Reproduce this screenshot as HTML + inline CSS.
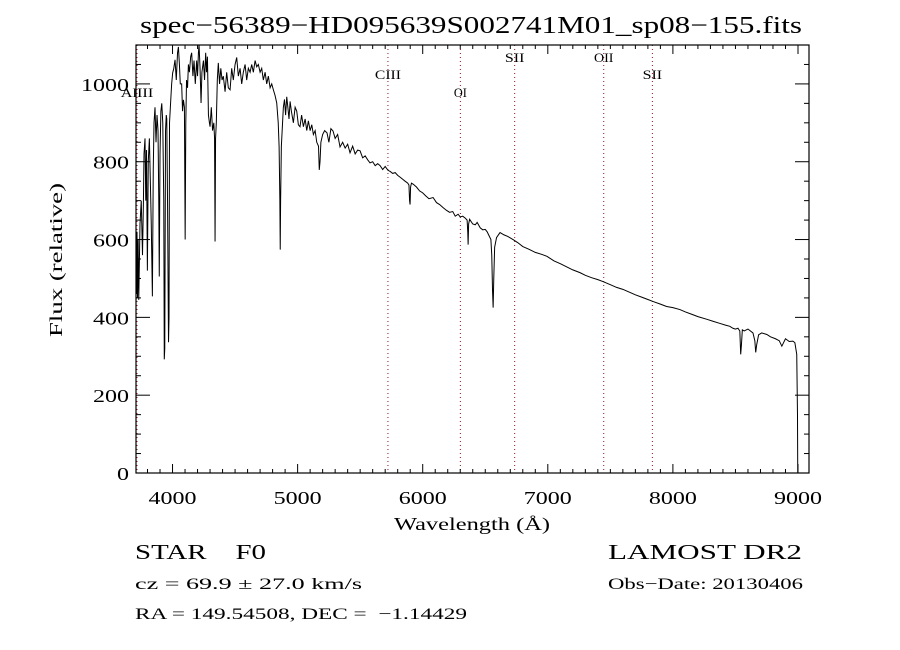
<!DOCTYPE html>
<html><head><meta charset="utf-8"><style>
html,body{margin:0;padding:0;background:#fff;}
svg{display:block;font-family:"Liberation Serif",serif;}
</style></head><body>
<svg id="chart" width="900" height="650" viewBox="0 0 900 650">
<rect width="900" height="650" fill="#fff"/>
<text x="140" y="33" font-size="24" textLength="662" lengthAdjust="spacingAndGlyphs">spec−56389−HD095639S002741M01_sp08−155.fits</text>
<g id="lines"></g>
<g id="axes"></g>
<path id="spec" fill="none" stroke="#000" stroke-width="1"/>
<rect x="136" y="45" width="673" height="428" fill="none" stroke="#000" stroke-width="1.2"/>
<text x="394" y="530" font-size="18" textLength="156" lengthAdjust="spacingAndGlyphs">Wavelength (Å)</text>
<text transform="translate(62,337) rotate(-90)" font-size="18" textLength="154" lengthAdjust="spacingAndGlyphs">Flux (relative)</text>
<text x="135" y="559" font-size="21" xml:space="preserve" textLength="131" lengthAdjust="spacingAndGlyphs">STAR    F0</text>
<text x="608" y="559" font-size="21" textLength="194" lengthAdjust="spacingAndGlyphs">LAMOST DR2</text>
<text x="135" y="589" font-size="16" textLength="227" lengthAdjust="spacingAndGlyphs">cz = 69.9 ± 27.0 km/s</text>
<text x="608" y="589" font-size="16" textLength="195" lengthAdjust="spacingAndGlyphs">Obs−Date: 20130406</text>
<text x="135" y="619" font-size="16" xml:space="preserve" textLength="332" lengthAdjust="spacingAndGlyphs">RA = 149.54508, DEC =  −1.14429</text>
</svg>
<script>
const wave = [3712,3716,3720,3725,3730,3740,3750,3760,3767,3772,
3780,3786,3792,3799,3806,3815,3822,3830,3839,3846,
3852,3860,3868,3876,3884,3890,3894,3900,3907,3914,
3922,3930,3934,3938,3944,3950,3954,3960,3968,3972,
3976,3986,3993,4001,4010,4020,4030,4040,4047,4055,
4062,4073,4080,4087,4095,4101,4106,4112,4120,4127,
4135,4145,4153,4163,4172,4182,4193,4200,4207,4212,
4220,4228,4235,4247,4256,4265,4272,4279,4287,4295,
4300,4310,4320,4330,4336,4340,4344,4350,4358,4366,
4376,4386,4396,4406,4420,4433,4446,4460,4473,4486,
4500,4513,4526,4540,4553,4566,4580,4593,4606,4620,
4633,4646,4660,4673,4686,4700,4713,4726,4740,4753,
4766,4780,4793,4806,4820,4833,4845,4852,4858,4861,
4864,4870,4878,4886,4895,4904,4913,4922,4931,4940,
4950,4966,4980,4993,5006,5019,5032,5046,5060,5073,
5086,5100,5113,5126,5140,5153,5167,5173,5179,5186,
5200,5216,5235,5250,5266,5283,5300,5320,5339,5360,
5380,5400,5419,5440,5460,5480,5499,5520,5540,5560,
5579,5600,5620,5640,5659,5680,5700,5722,5740,5760,
5780,5800,5820,5840,5859,5880,5890,5895,5899,5903,
5910,5925,5950,5975,6000,6025,6050,6083,6110,6135,
6163,6190,6215,6240,6260,6283,6300,6320,6340,6355,
6360,6363,6367,6375,6400,6420,6435,6460,6480,6500,
6515,6530,6545,6552,6558,6563,6568,6575,6590,6618,
6650,6680,6722,6760,6800,6850,6900,6950,6993,7050,
7100,7150,7200,7257,7300,7350,7400,7441,7500,7550,
7600,7657,7700,7750,7800,7840,7900,7950,8000,8056,
8100,8150,8200,8272,8320,8370,8420,8455,8480,8500,
8520,8535,8542,8548,8555,8570,8600,8640,8655,8662,
8670,8685,8710,8751,8780,8820,8850,8871,8900,8930,
8959,8975,8990,8996,8998];
const flux = [460,620,450,600,445,640,700,560,690,820,
860,700,830,520,800,860,760,640,454,780,
900,940,850,920,880,700,505,820,930,950,
900,700,292,320,880,920,910,700,336,400,
900,960,1000,1028,1040,1062,1010,1080,1095,1050,
1000,1000,930,959,940,600,900,1010,990,1050,
1030,1070,1080,1020,1060,1000,1060,1020,1080,1100,
1040,951,1030,1060,1010,1080,1030,1070,920,900,
890,940,880,900,860,595,860,900,1010,1054,
1000,1040,1010,1020,980,1030,990,985,1040,1010,
1050,1068,1020,1040,1000,1030,1050,1010,1040,1030,
1050,1030,1060,1044,1050,1030,1040,1010,1030,1000,
1020,990,1000,985,970,951,900,838,700,574,
700,840,890,940,960,920,967,940,910,955,
930,900,940,930,895,890,920,890,910,880,
905,880,895,870,880,850,840,779,800,850,
870,880,874,850,885,879,860,870,838,850,
835,845,823,840,820,830,828,810,815,805,
797,800,790,795,790,780,788,778,775,770,
772,765,760,755,750,745,740,700,690,735,
745,742,735,725,720,712,705,708,695,690,
682,675,670,672,660,665,658,660,655,650,
620,587,640,652,640,638,644,630,625,626,
620,610,600,560,470,425,500,580,605,618,
612,608,600,592,582,575,567,562,557,545,
538,530,522,515,508,502,497,492,484,477,
472,464,458,452,446,441,434,428,425,420,
414,408,402,395,390,385,380,377,372,370,
372,365,305,330,368,365,370,360,340,310,
330,355,360,356,350,345,340,326,345,338,
339,335,305,150,0];
const xTicks = [4000,5000,6000,7000,8000,9000];
const yTicks = [0,200,400,600,800,1000];
const lineNames = ["AlIII","CIII","OI","SII","OII","SII"];
const lineWaves = [3716,5722,6301,6735,7447,7836];
const lineLabelY = [97,79,97,62,62,79];

const NS="http://www.w3.org/2000/svg";
const X0=136,X1=809,Y0=473,Y1=45;
const xMin=3708,xMax=9088,yMin=0,yMax=1100;
function xs(w){return X0+(w-xMin)/(xMax-xMin)*(X1-X0);}
function ys(f){return Y0-(f-yMin)/(yMax-yMin)*(Y0-Y1);}
function mk(tag,attrs,parent){const e=document.createElementNS(NS,tag);for(const k in attrs)e.setAttribute(k,attrs[k]);parent.appendChild(e);return e;}

let d="";
for(let i=0;i<wave.length;i++){d+=(i?"L":"M")+xs(wave[i]).toFixed(2)+","+ys(Math.max(yMin,Math.min(yMax,flux[i]))).toFixed(2);}
document.getElementById("spec").setAttribute("d",d);

const ax=document.getElementById("axes");
for(let w=3800;w<=9000;w+=100){
  const x=xs(w), major=(w%1000===0), len=major?9:4;
  const t1=mk("line",{x1:x,x2:x,y1:Y0,y2:Y0-len,stroke:"#000"},ax);
  
  
  const t2=mk("line",{x1:x,x2:x,y1:Y1,y2:Y1+len,stroke:"#000"},ax);
  
  
}
xTicks.forEach(v=>{
  const t=mk("text",{x:xs(v)-24,y:504,"font-size":18,textLength:48,lengthAdjust:"spacingAndGlyphs"},ax);
  t.textContent=v;
  
  
});
for(let f=0;f<=1100;f+=50){
  const y=ys(f), major=(f%200===0), len=major?14:5;
  const t1=mk("line",{x1:X0,x2:X0+len,y1:y,y2:y,stroke:"#000"},ax);
  
  
  const t2=mk("line",{x1:X1,x2:X1-len,y1:y,y2:y,stroke:"#000"},ax);
  
  
}
yTicks.forEach(v=>{
  const s=String(v), w=s.length*12;
  const t=mk("text",{x:129-w,y:ys(v)+7,"font-size":18,textLength:w,lengthAdjust:"spacingAndGlyphs"},ax);
  t.textContent=s;
  
  
});
const lg=document.getElementById("lines");
lineWaves.forEach((w,i)=>{
  const x=xs(w);
  const l=mk("line",{x1:x,x2:x,y1:Y1,y2:Y0,stroke:"#8b1a1a","stroke-width":1,"stroke-dasharray":"1,3"},lg);
  
  
  const tw=lineNames[i].length*6.5;
  const t=mk("text",{x:x-tw/2,y:lineLabelY[i],"font-size":13,textLength:tw,lengthAdjust:"spacingAndGlyphs"},lg);
  t.textContent=lineNames[i];
  
  
});
</script>
</body></html>
